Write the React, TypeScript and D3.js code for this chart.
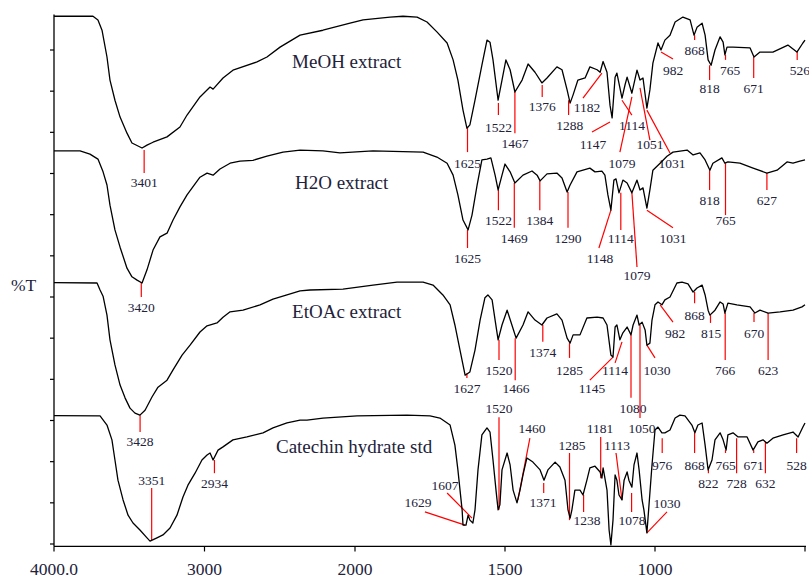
import React from 'react';
import * as d3 from 'd3';

// wavenumber (cm-1), %T as stacked on the page
const meohSpectrum: [number, number][] = [
  [4000, 128.2], [3741, 128.2], [3708, 127.3], [3681, 124.8], [3648, 118.3], [3628, 112.7], [3595, 107.8],
  [3561, 103.7], [3515, 99.8], [3482, 97.4], [3415, 96.2], [3382, 96.9], [3342, 97.6], [3249, 98.9],
  [3163, 101.3], [3116, 104.2], [3030, 108.6], [2963, 111.0], [2943, 110.5], [2877, 113.2], [2811, 115.1],
  [2651, 117.1], [2585, 118.3], [2498, 120.7], [2365, 123.6], [2213, 124.8], [2033, 126.5], [1973, 127.3],
  [1883, 128.0], [1840, 128.2], [1793, 128.0], [1760, 126.8], [1727, 124.4], [1693, 121.7], [1673, 117.6],
  [1657, 112.7], [1640, 105.4], [1627, 101.0], [1617, 101.8], [1600, 107.8], [1577, 116.3], [1560, 122.4],
  [1550, 121.9], [1540, 117.6], [1523, 107.8], [1510, 112.7], [1497, 117.6], [1483, 115.2], [1467, 109.8],
  [1443, 112.7], [1423, 116.6], [1400, 114.6], [1377, 112.0], [1360, 113.2], [1327, 115.9], [1310, 115.2],
  [1293, 110.3], [1283, 107.1], [1273, 109.1], [1257, 112.7], [1233, 113.2], [1217, 115.9], [1193, 115.2],
  [1183, 114.6], [1173, 117.2], [1160, 114.6], [1150, 106.6], [1143, 103.5], [1133, 113.4], [1127, 114.4],
  [1110, 108.3], [1100, 111.5], [1093, 113.4], [1077, 109.5], [1060, 115.1], [1050, 112.7], [1040, 113.2],
  [1027, 105.9], [1017, 110.3], [1007, 116.8], [990, 121.7], [980, 120.0], [967, 122.4], [950, 123.6],
  [933, 126.8], [907, 128.0], [883, 127.3], [870, 123.6], [860, 125.5], [843, 126.5], [833, 123.6],
  [823, 117.6], [813, 116.3], [800, 120.0], [783, 123.2], [773, 121.9], [767, 118.8], [760, 120.7],
  [740, 120.7], [683, 120.5], [670, 118.3], [650, 119.5], [607, 119.5], [557, 121.2], [527, 119.5],
  [507, 121.7], [500, 122.4],
];

const h2oSpectrum: [number, number][] = [
  [4000, 95.5], [3827, 95.5], [3761, 94.7], [3708, 93.5], [3674, 90.4], [3648, 87.2], [3628, 82.3],
  [3595, 76.3], [3561, 72.1], [3515, 67.0], [3482, 64.9], [3448, 64.1], [3415, 63.4], [3382, 66.6],
  [3342, 71.4], [3296, 74.6], [3249, 75.5], [3209, 78.7], [3163, 81.9], [3116, 84.8], [3030, 89.1],
  [2983, 90.1], [2943, 89.6], [2897, 91.1], [2830, 92.5], [2764, 93.0], [2678, 93.2], [2585, 94.2],
  [2478, 95.2], [2365, 95.7], [2213, 95.5], [2100, 95.0], [1940, 95.5], [1773, 95.2], [1727, 94.0],
  [1693, 92.5], [1673, 89.6], [1657, 84.8], [1640, 78.7], [1623, 76.3], [1610, 79.9], [1593, 87.2],
  [1577, 93.3], [1560, 93.5], [1547, 93.8], [1533, 89.6], [1523, 86.0], [1510, 89.6], [1500, 92.3],
  [1483, 90.4], [1467, 87.7], [1440, 89.6], [1410, 90.6], [1393, 89.6], [1383, 88.2], [1360, 89.9],
  [1327, 90.1], [1310, 88.9], [1293, 85.5], [1283, 87.2], [1260, 90.4], [1217, 91.3], [1200, 90.4],
  [1177, 90.6], [1167, 89.6], [1157, 84.8], [1147, 81.1], [1137, 88.4], [1130, 88.7], [1120, 85.3],
  [1107, 88.4], [1093, 87.7], [1077, 85.3], [1060, 88.4], [1050, 86.0], [1040, 86.5], [1027, 81.6],
  [1017, 86.0], [1007, 90.8], [983, 92.5], [960, 94.2], [940, 95.2], [893, 95.7], [873, 94.5],
  [850, 95.0], [833, 93.3], [817, 90.8], [807, 92.5], [777, 93.8], [767, 92.5], [757, 92.8],
  [717, 92.5], [673, 91.3], [627, 90.1], [593, 90.8], [560, 92.8], [540, 92.5], [517, 93.0], [500, 93.3],
];

const etoacSpectrum: [number, number][] = [
  [4000, 63.5], [3714, 63.4], [3694, 61.7], [3674, 60.2], [3648, 55.6], [3628, 49.6], [3595, 43.5],
  [3561, 38.6], [3528, 35.5], [3495, 33.0], [3462, 31.8], [3429, 31.3], [3395, 32.5], [3349, 35.7],
  [3309, 38.1], [3249, 39.8], [3209, 42.3], [3149, 45.9], [3096, 48.3], [3030, 51.5], [2983, 53.0],
  [2917, 53.7], [2877, 55.1], [2830, 56.4], [2744, 56.8], [2631, 58.1], [2545, 59.5], [2452, 60.5],
  [2365, 61.5], [2299, 61.7], [2080, 61.9], [1940, 62.9], [1860, 63.6], [1773, 63.6], [1740, 62.9],
  [1707, 60.5], [1683, 58.1], [1667, 53.2], [1650, 47.1], [1633, 41.0], [1617, 41.8], [1600, 47.1],
  [1583, 54.4], [1567, 59.8], [1557, 60.5], [1543, 59.3], [1533, 54.4], [1523, 49.6], [1510, 53.2],
  [1493, 56.8], [1477, 53.2], [1463, 50.0], [1440, 53.2], [1423, 56.4], [1400, 54.4], [1377, 53.2],
  [1360, 54.9], [1327, 55.9], [1310, 54.4], [1293, 50.0], [1283, 48.8], [1273, 50.8], [1250, 50.8],
  [1227, 54.9], [1193, 55.1], [1173, 54.9], [1160, 53.2], [1147, 45.9], [1140, 45.4], [1133, 52.7],
  [1127, 53.2], [1117, 49.6], [1107, 51.3], [1093, 52.7], [1080, 50.8], [1073, 53.2], [1060, 55.6],
  [1053, 53.2], [1043, 53.9], [1033, 52.0], [1027, 48.3], [1017, 48.8], [1010, 54.4], [1000, 58.1],
  [990, 58.8], [977, 58.1], [967, 59.3], [950, 60.0], [927, 63.4], [910, 63.6], [890, 63.2],
  [873, 61.2], [860, 62.2], [843, 62.9], [833, 60.5], [823, 56.8], [817, 55.6], [800, 56.8],
  [783, 58.8], [773, 58.3], [767, 56.1], [757, 58.5], [727, 58.1], [683, 57.6], [667, 56.1],
  [650, 56.8], [623, 56.1], [583, 56.4], [540, 56.8], [510, 57.6], [500, 58.1],
];

const catechinSpectrum: [number, number][] = [
  [4000, 31.2], [3694, 31.1], [3648, 28.9], [3615, 25.3], [3595, 20.4], [3575, 15.5], [3541, 10.7],
  [3508, 7.0], [3475, 5.1], [3429, 3.4], [3382, 1.5], [3362, 0.7], [3316, 1.5], [3276, 2.2],
  [3229, 3.9], [3183, 7.0], [3143, 11.4], [3110, 14.3], [3063, 17.2], [3017, 20.4], [2983, 21.6],
  [2963, 22.1], [2943, 20.4], [2910, 22.8], [2877, 23.6], [2811, 25.3], [2718, 26.0], [2611, 27.0],
  [2545, 28.2], [2452, 29.4], [2365, 30.1], [2319, 30.1], [2213, 30.6], [1993, 31.1], [1827, 31.3],
  [1750, 31.1], [1717, 30.6], [1683, 28.9], [1667, 24.0], [1657, 18.0], [1643, 8.3], [1640, 4.6],
  [1630, 4.6], [1623, 7.0], [1617, 5.8], [1607, 5.1], [1600, 8.3], [1590, 18.0], [1577, 26.5],
  [1560, 28.2], [1550, 27.2], [1540, 20.4], [1530, 13.1], [1523, 8.3], [1517, 9.5], [1510, 18.0],
  [1493, 22.1], [1483, 19.2], [1473, 13.1], [1460, 10.0], [1450, 13.1], [1440, 16.8], [1427, 20.9],
  [1407, 19.9], [1383, 18.0], [1370, 15.5], [1357, 18.0], [1333, 19.9], [1317, 18.7], [1300, 15.5],
  [1290, 8.3], [1283, 6.3], [1277, 8.3], [1267, 13.1], [1250, 13.1], [1240, 11.9], [1227, 15.5],
  [1217, 18.5], [1200, 18.9], [1183, 17.5], [1177, 16.0], [1173, 18.5], [1160, 13.1], [1153, 3.4],
  [1147, -0.2], [1140, 5.8], [1133, 16.8], [1127, 15.5], [1120, 11.9], [1110, 10.7], [1103, 15.5],
  [1093, 17.5], [1087, 15.5], [1077, 13.8], [1070, 19.2], [1060, 22.1], [1053, 18.0], [1043, 10.7],
  [1037, 8.3], [1027, 2.7], [1020, 9.5], [1010, 19.2], [1000, 27.7], [990, 28.4], [977, 27.0],
  [967, 27.0], [950, 27.7], [933, 30.6], [917, 31.3], [900, 31.1], [877, 28.9], [867, 27.0],
  [857, 28.9], [843, 29.4], [833, 24.0], [823, 18.0], [810, 20.4], [800, 25.3], [783, 27.0],
  [773, 25.3], [763, 22.8], [757, 26.5], [740, 27.0], [723, 26.0], [693, 26.0], [673, 22.8],
  [657, 24.8], [640, 25.3], [627, 24.5], [607, 25.7], [573, 26.5], [540, 27.2], [523, 26.0],
  [507, 28.4], [500, 29.4],
];

// peak label: text, marker line from (x1,y1) to (x2,y2), label at (tx,ty) — all in data units
type Peak = [string, number, number, number, number, number, number];

const meohPeaks: Peak[] = [
  ['3401', 3401, 95.7, 3401, 90.1, 3401, 86.7],
  ['1625', 1625, 101.0, 1625, 95.2, 1625, 91.3],
  ['1522', 1522, 107.1, 1522, 104.2, 1522, 100.1],
  ['1467', 1467, 109.8, 1467, 99.8, 1467, 96.2],
  ['1376', 1376, 111.5, 1376, 108.6, 1376, 105.2],
  ['1288', 1288, 107.8, 1288, 104.2, 1284, 100.6],
  ['1182', 1240, 108.3, 1177, 114.4, 1227, 104.9],
  ['1147', 1210, 100.1, 1150, 102.5, 1207, 95.9],
  ['1114', 1110, 107.8, 1077, 104.2, 1077, 100.6],
  ['1079', 1077, 108.6, 1117, 95.2, 1110, 91.3],
  ['1051', 1050, 110.8, 1017, 98.1, 1017, 95.9],
  ['1031', 1027, 105.4, 950, 95.0, 943, 91.3],
  ['982', 980, 119.5, 940, 117.8, 940, 113.9],
  ['868', 868, 123.6, 868, 122.4, 868, 118.8],
  ['818', 818, 116.3, 818, 112.7, 818, 109.5],
  ['765', 765, 118.8, 765, 117.6, 750, 113.9],
  ['671', 671, 118.3, 671, 113.2, 671, 109.5],
  ['526', 526, 119.5, 526, 117.6, 517, 113.9],
];

const h2oPeaks: Peak[] = [
  ['3420', 3420, 63.6, 3420, 60.0, 3420, 56.4],
  ['1625', 1625, 76.3, 1625, 71.9, 1625, 68.3],
  ['1522', 1522, 86.0, 1522, 81.1, 1522, 77.5],
  ['1469', 1469, 87.7, 1469, 76.8, 1469, 73.1],
  ['1384', 1384, 88.2, 1384, 81.1, 1384, 77.5],
  ['1290', 1290, 85.5, 1290, 76.8, 1290, 73.1],
  ['1148', 1187, 71.9, 1147, 81.1, 1183, 68.3],
  ['1114', 1114, 85.3, 1114, 76.3, 1114, 73.1],
  ['1079', 1077, 85.3, 1060, 67.3, 1060, 64.1],
  ['1031', 1027, 81.1, 940, 76.8, 940, 73.1],
  ['818', 818, 90.8, 818, 86.0, 818, 82.3],
  ['765', 765, 92.5, 765, 79.9, 765, 77.5],
  ['627', 627, 90.1, 627, 86.0, 627, 82.3],
];

const etoacPeaks: Peak[] = [
  ['3428', 3428, 31.3, 3428, 27.2, 3428, 23.8],
  ['1627', 1627, 41.5, 1627, 40.3, 1627, 36.7],
  ['1520', 1520, 49.6, 1520, 44.7, 1520, 41.0],
  ['1466', 1466, 50.0, 1466, 39.8, 1463, 36.7],
  ['1374', 1374, 53.2, 1374, 49.1, 1374, 45.4],
  ['1285', 1285, 48.8, 1285, 45.2, 1285, 41.0],
  ['1145', 1217, 39.8, 1140, 45.4, 1210, 36.7],
  ['1114', 1133, 44.0, 1110, 49.1, 1133, 41.0],
  ['1080', 1080, 50.8, 1080, 35.5, 1073, 31.8],
  ['1050', 1050, 53.2, 1050, 30.6, 1043, 27.0],
  ['1030', 1027, 48.3, 1000, 45.2, 993, 41.0],
  ['982', 983, 58.1, 940, 53.9, 933, 50.0],
  ['868', 868, 61.2, 868, 58.5, 868, 54.4],
  ['815', 815, 55.6, 815, 53.7, 813, 50.0],
  ['766', 766, 56.1, 766, 44.7, 766, 41.0],
  ['670', 670, 56.1, 670, 53.9, 670, 50.0],
  ['623', 623, 56.1, 623, 44.7, 623, 41.0],
];

const catechinPeaks: Peak[] = [
  ['3351', 3351, 13.6, 3351, 1.0, 3351, 14.3],
  ['2934', 2934, 20.4, 2934, 17.2, 2934, 13.6],
  ['1629', 1767, 7.8, 1633, 4.6, 1790, 9.0],
  ['1607', 1693, 12.4, 1610, 6.3, 1700, 13.1],
  ['1520', 1520, 30.8, 1520, 8.3, 1520, 31.8],
  ['1460', 1457, 10.7, 1417, 25.7, 1410, 27.0],
  ['1371', 1371, 14.8, 1371, 12.4, 1373, 9.0],
  ['1285', 1285, 22.1, 1285, 5.8, 1277, 22.8],
  ['1238', 1238, 11.9, 1238, 7.8, 1227, 4.6],
  ['1181', 1181, 26.0, 1181, 16.0, 1183, 27.0],
  ['1113', 1130, 22.1, 1110, 10.7, 1127, 22.8],
  ['1078', 1078, 12.4, 1078, 7.8, 1077, 4.6],
  ['1030', 1027, 2.7, 960, 7.8, 960, 8.7],
  ['976', 976, 25.7, 976, 22.1, 976, 18.0],
  ['868', 868, 27.0, 868, 22.1, 868, 18.0],
  ['822', 822, 18.0, 822, 17.2, 822, 13.6],
  ['765', 765, 22.8, 765, 22.1, 765, 18.0],
  ['728', 728, 25.7, 728, 17.2, 728, 13.6],
  ['671', 671, 22.8, 671, 22.1, 671, 18.0],
  ['632', 632, 24.8, 632, 17.2, 632, 13.6],
  ['528', 528, 25.7, 528, 22.1, 528, 18.0],
];

// sample name, left edge wavenumber, baseline %T
const sampleNames: [string, number, number][] = [
  ['MeOH extract', 2418, 115.6],
  ['H2O extract', 2399, 86.2],
  ['EtOAc extract', 2418, 54.9],
  ['Catechin hydrate std', 2525, 22.1],
];

const xTicks = [4000, 3000, 2000, 1500, 1000, 500];
const xTickLabels = ['4000.0', '3000', '2000', '1500', '1000', ''];
const yTicks = [0, 10, 20, 30, 40, 50, 60, 70, 80, 90, 100, 110, 120];

const spectra = [meohSpectrum, h2oSpectrum, etoacSpectrum, catechinSpectrum];
const peakSets = [meohPeaks, h2oPeaks, etoacPeaks, catechinPeaks];

export default function App() {
  const width = 809;
  const height = 578;

  // the instrument plots 4000-2000 at half the scale of 2000-500
  const x = d3.scaleLinear().domain([4000, 2000, 500]).range([54, 355, 805]);
  const y = d3.scaleLinear().domain([0, 120]).range([544, 50]);
  const yTop = 128.6;
  const yBottom = -0.6;

  const line = d3.line<[number, number]>()
    .x(d => x(d[0]))
    .y(d => y(d[1]));

  const serif = '"Liberation Serif", "Times New Roman", serif';
  const textColor = '#22223a';

  return (
    <div>
      <style>{`body{margin:0}`}</style>
      <svg width={width} height={height} style={{ display: 'block', background: '#fff' }}>
        {/* axes */}
        <line x1={x(4000)} x2={x(4000)} y1={y(yTop)} y2={y(yBottom)} stroke="#000" strokeWidth={1.3} />
        <line x1={x(4000)} x2={x(500) + 1} y1={y(yBottom)} y2={y(yBottom)} stroke="#000" strokeWidth={1.3} />
        {yTicks.map(t => (
          <line key={'yt' + t} x1={x(4000) - 4} x2={x(4000)} y1={y(t)} y2={y(t)} stroke="#000" strokeWidth={1.2} />
        ))}
        {xTicks.map((t, i) => (
          <g key={'xt' + t}>
            <line x1={x(t)} x2={x(t)} y1={y(yBottom)} y2={y(yBottom) + 5} stroke="#000" strokeWidth={1.2} />
            <text x={x(t)} y={575} textAnchor="middle" fontFamily={serif} fontSize={17.5} fill={textColor}>
              {xTickLabels[i]}
            </text>
          </g>
        ))}
        <text x={11} y={291} fontFamily={serif} fontSize={17.5} fill={textColor}>%T</text>

        {/* peak markers */}
        {peakSets.map((peaks, si) => (
          <g key={'p' + si}>
            {peaks.map((p, i) => (
              <g key={i}>
                <line x1={x(p[1])} y1={y(p[2])} x2={x(p[3])} y2={y(p[4])} stroke="#ff0000" strokeWidth={1.2} />
                <text x={x(p[5])} y={y(p[6])} textAnchor="middle" fontFamily={serif} fontSize={13.5} fill={textColor}>
                  {p[0]}
                </text>
              </g>
            ))}
          </g>
        ))}

        {/* spectra */}
        {spectra.map((s, i) => (
          <path key={'s' + i} d={line(s) || ''} fill="none" stroke="#000" strokeWidth={1.3} strokeLinejoin="round" />
        ))}

        {sampleNames.map(n => (
          <text key={n[0]} x={x(n[1])} y={y(n[2])} fontFamily={serif} fontSize={19} fill={textColor}>
            {n[0]}
          </text>
        ))}
      </svg>
    </div>
  );
}
